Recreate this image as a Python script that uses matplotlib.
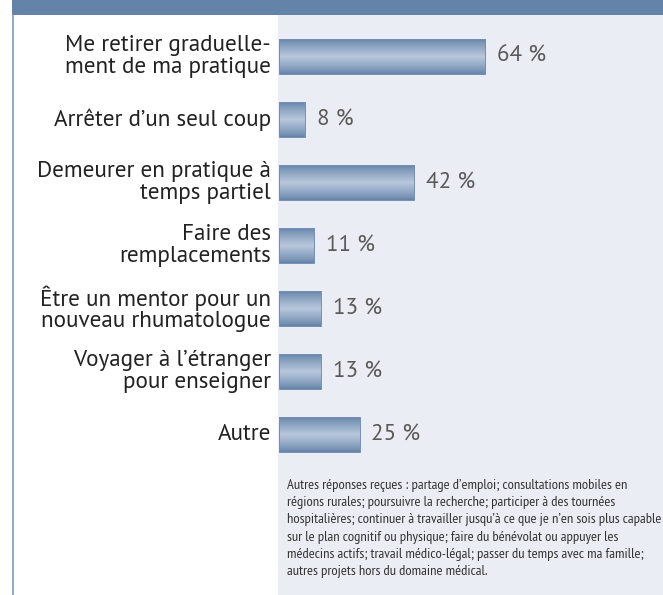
import matplotlib
matplotlib.use("Agg")
import matplotlib.pyplot as plt
import matplotlib.transforms as mtransforms
from matplotlib import font_manager
import numpy as np

LABELS = [
    "Me retirer graduelle-\nment de ma pratique",
    "Arrêter d’un seul coup",
    "Demeurer en pratique à\ntemps partiel",
    "Faire des\nremplacements",
    "Être un mentor pour un\nnouveau rhumatologue",
    "Voyager à l’étranger\npour enseigner",
    "Autre",
]
VALUES = [64, 8, 42, 11, 13, 13, 25]
NOTE = (
    "Autres réponses reçues : partage d’emploi; consultations mobiles en\n"
    "régions rurales; poursuivre la recherche; participer à des tournées\n"
    "hospitalières; continuer à travailler jusqu’à ce que je n’en sois plus capable\n"
    "sur le plan cognitif ou physique; faire du bénévolat ou appuyer les\n"
    "médecins actifs; travail médico-légal; passer du temps avec ma famille;\n"
    "autres projets hors du domaine médical."
)

W, H = 663, 595
HEADER = "#6483a8"
PANEL = "#eaedf3"

names = {f.name for f in font_manager.fontManager.ttflist}


def pick(*cands):
    for c in cands:
        if c in names:
            return c
    return "DejaVu Sans"


main_font = pick("PT Sans", "Open Sans")
narrow = pick("PT Sans Narrow", "Fira Sans Condensed", "Roboto Condensed",
              "Archivo Narrow", "Liberation Sans Narrow", "Roboto")

fig = plt.figure(figsize=(W / 100, H / 100), dpi=100)
fig.patch.set_facecolor("white")
renderer = fig.canvas.get_renderer()


def fit_size(text, family, target_px, size=12.0, **kw):
    t = fig.text(0, 0, text, fontsize=size, family=family, **kw)
    w = t.get_window_extent(renderer).width
    t.remove()
    return size * target_px / w


# gray panel + header + left rule
fig.patches.append(plt.Rectangle((278 / W, 0), 1, (H - 15) / H, transform=fig.transFigure,
                                 facecolor=PANEL, edgecolor="none", zorder=-10))
fig.patches.append(plt.Rectangle((12 / W, (H - 15) / H), 1, 15 / H, transform=fig.transFigure,
                                 facecolor=HEADER, edgecolor="none", zorder=-10))
fig.add_artist(plt.Line2D([13 / W, 13 / W], [0, (H - 15) / H], transform=fig.transFigure,
                          color="#7f98b8", lw=1.2))

px_per_pct = 3.22
pitch = 63.0
ax = fig.add_axes([279 / W, 0, (W - 279) / W, 1])
ax.axis("off")

grad = np.linspace(0, 1, 64)
prof = 1 - np.abs(grad - 0.5) * 2
cols_top = np.array([0.39, 0.51, 0.66])
cols_mid = np.array([0.72, 0.78, 0.86])
img = cols_top[None, :] + (cols_mid - cols_top)[None, :] * prof[:, None] ** 0.8
img = img[:, None, :]

lab_size = fit_size("Me retirer graduelle-", main_font, 205)
val_size = fit_size("64 %", main_font, 49)
note_size = fit_size("hospitalières; continuer à travailler jusqu’à ce que je n’en sois plus capable",
                     narrow, 373)

bh = 35 / pitch
trans_lab = mtransforms.blended_transform_factory(ax.transAxes, ax.transData)
for i, (lab, v) in enumerate(zip(LABELS, VALUES)):
    ax.imshow(img, extent=(0, v, i + bh / 2, i - bh / 2), aspect="auto",
              interpolation="bilinear", zorder=2)
    ax.add_patch(plt.Rectangle((0, i - bh / 2), v, bh, facecolor="none",
                               edgecolor="#7390b4", lw=0.7, zorder=3))
    ax.text(-8 / (W - 279), i, lab, transform=trans_lab, ha="right", va="center",
            multialignment="right", fontsize=lab_size, color="#222222",
            family=main_font, linespacing=1.02, clip_on=False)
    ax.annotate(f"{v} %", (v, i), xytext=(8.6, 0), textcoords="offset points",
                ha="left", va="center", fontsize=val_size, color="#595959",
                family=main_font)

ax.set_xlim(0, (W - 279) / px_per_pct)
ax.set_ylim((H - 56.5) / pitch, -56.5 / pitch)

fig.text(287 / W, 1 - 479 / H, NOTE, ha="left", va="top", fontsize=note_size,
         family=narrow, color="#333333", linespacing=1.42)

fig.savefig("out.png", dpi=100)
